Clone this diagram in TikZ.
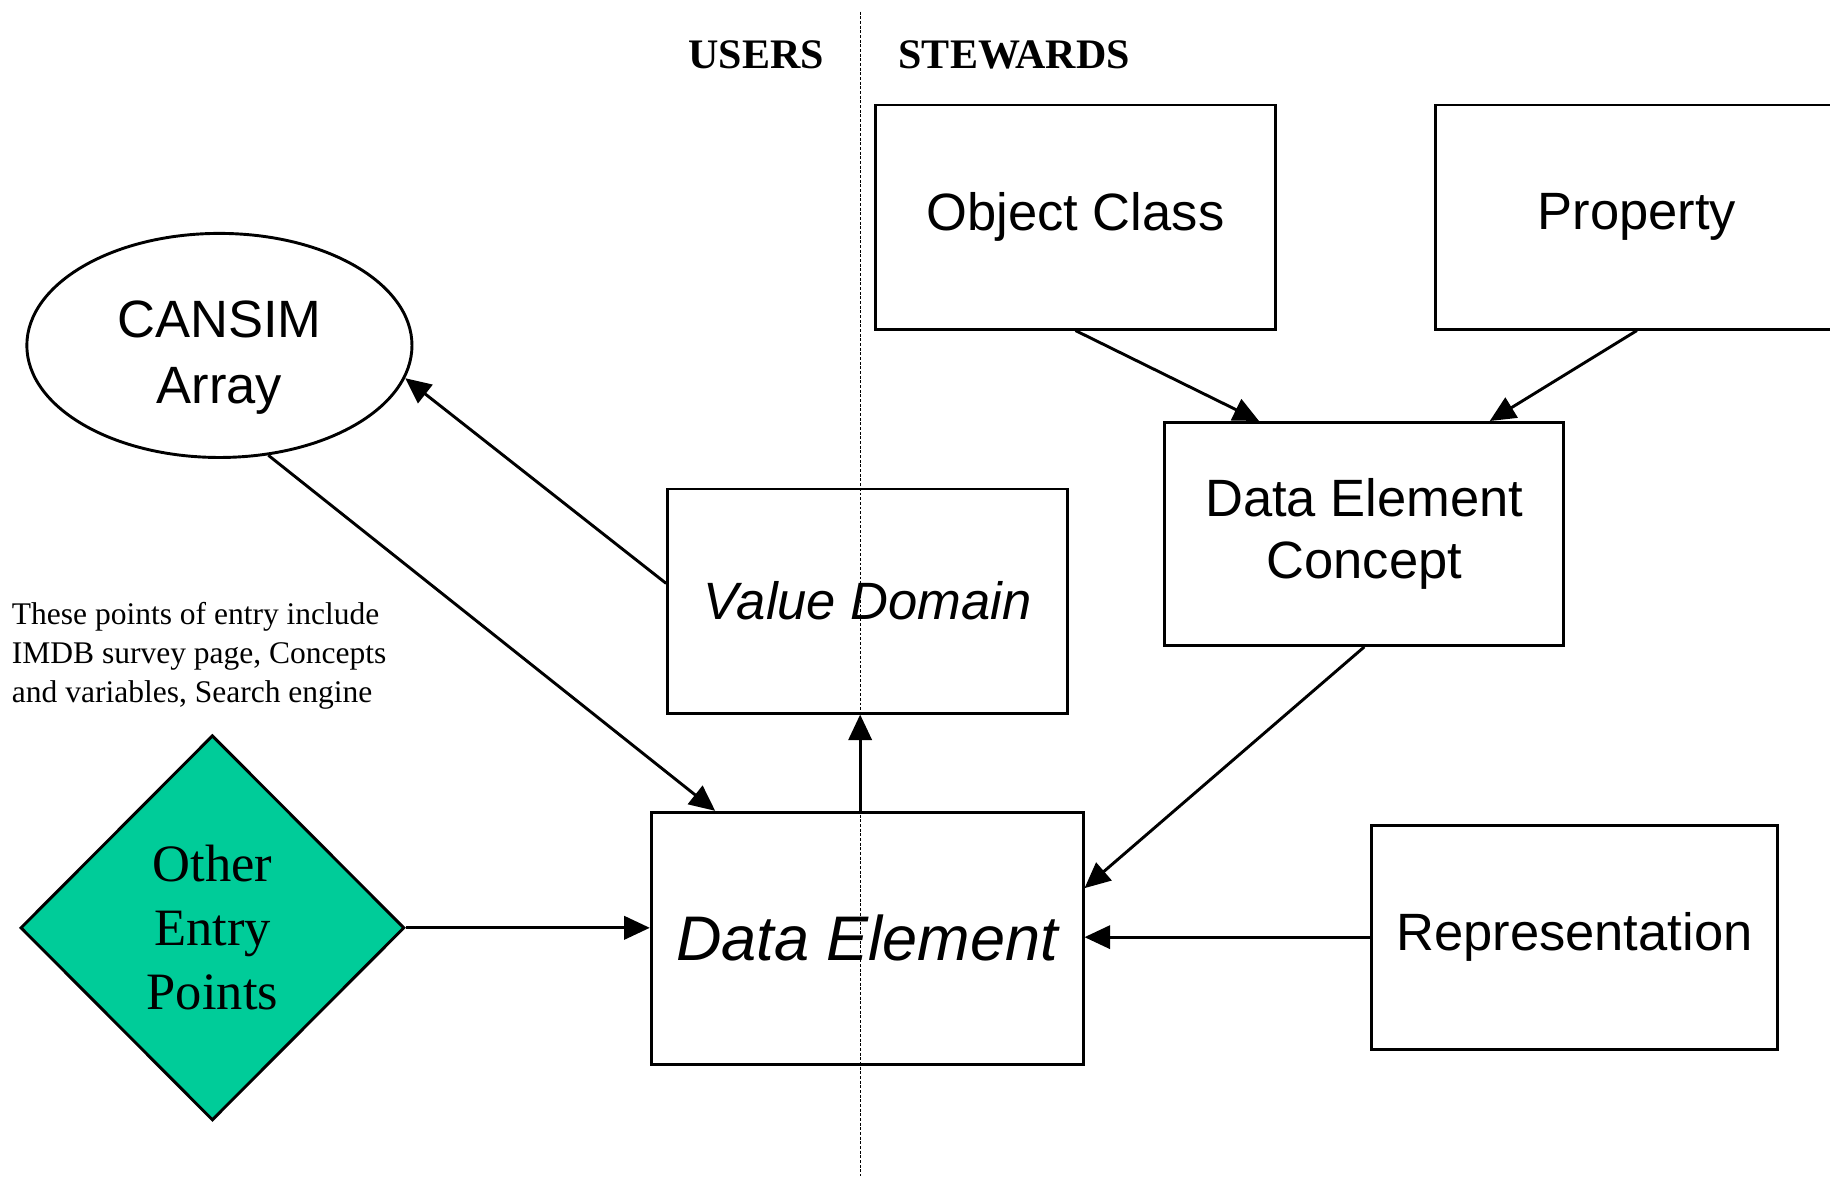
\documentclass[tikz,border=0pt]{standalone}
\usepackage{fontspec}
\setmainfont{Liberation Serif}
\setsansfont{Liberation Sans}
\usetikzlibrary{shapes.geometric}
\usetikzlibrary{arrows.meta}
\definecolor{entrygreen}{RGB}{0,204,153}

\begin{document}
\begin{tikzpicture}[x=1pt,y=1pt,
  box/.style={draw,rectangle,line width=2.5pt,inner sep=0pt,align=center,font=\sffamily\fontsize{45}{53}\selectfont},
  link/.style={line width=2.5pt,-{Triangle[length=22pt,width=20pt]}}]
\useasboundingbox (0,0) rectangle (1568,1008);

% users | stewards divide
\coordinate (top) at (737,998);
\coordinate (bot) at (737,0);
\draw[line width=1pt,dash pattern=on 2.5pt off 1.5pt] (top) -- (bot);
\node[font=\bfseries\fontsize{36}{40}\selectfont] (users) at (648,961) {USERS};
\node[font=\bfseries\fontsize{36}{40}\selectfont] (stewards) at (869,961) {STEWARDS};

\node[box,minimum width=343,minimum height=192] (objcls) at (921.5,822) {Object Class};
\node[box,minimum width=345,minimum height=192] (prop) at (1402.5,822) {Property};
\node[box,minimum width=343,minimum height=192] (valdom) at (743.5,493) {\itshape Value Domain};
\node[box,minimum width=342,minimum height=191] (dec) at (1169,550.5) {Data Element\\Concept};
\node[box,minimum width=370,minimum height=216,font=\sffamily\itshape\fontsize{54}{60}\selectfont] (dataelem) at (743,204) {Data Element};
\node[box,minimum width=348,minimum height=192] (repr) at (1349,205) {Representation};
\node[draw,ellipse,line width=2.5pt,minimum width=330,minimum height=192,inner sep=0pt,align=center,font=\sffamily\fontsize{45}{56}\selectfont] (cansim) at (188,712) {\rule{0pt}{52pt}CANSIM\\Array};
\node[draw,diamond,fill=entrygreen,line width=2.5pt,minimum width=329,minimum height=330,inner sep=0pt,align=center,font=\fontsize{45}{55}\selectfont] (entry) at (182,213) {Other\\Entry\\Points};
\node[anchor=west,align=left,inner sep=0pt,font=\fontsize{27}{33.5}\selectfont] (note) at (10,446) {These points of entry include\\IMDB survey page, Concepts\\and variables, Search engine};

\draw[link] (valdom.175) -- (cansim.-10);
\draw[link] (cansim.-66) -- (dataelem.140.5);
\draw[link] (dataelem.north -| top) -- (valdom.south -| top);
\draw[link] (objcls.south) -- (dec.133.6);
\draw[link] (prop.south) -- (dec.42);
\draw[link] (dec.south) -- (dataelem.13.4);
\draw[link] (repr.west) -- (repr.west -| dataelem.east);
\draw[link] (entry.east) -- (entry.east -| dataelem.west);

\end{tikzpicture}
\end{document}
